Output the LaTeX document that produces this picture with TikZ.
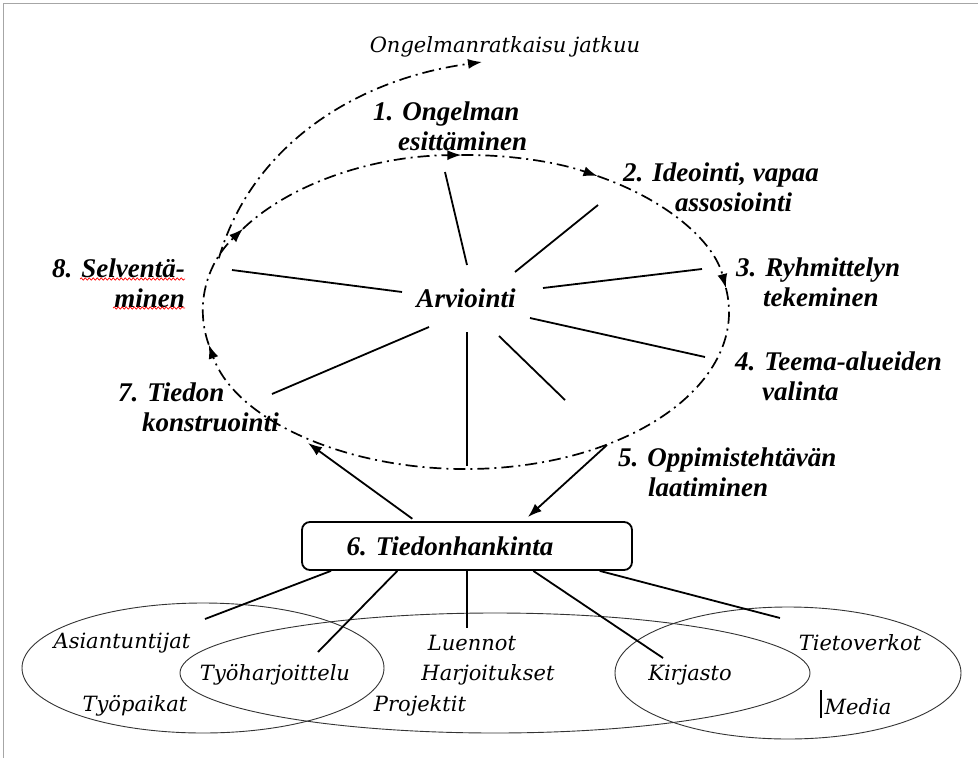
\documentclass[tikz,border=0pt]{standalone}
\usepackage{fontspec}
\setmainfont{Liberation Serif}
\newfontfamily\slabfont{DejaVu Serif}
\usetikzlibrary{arrows.meta, positioning, calc, decorations.pathmorphing}

\tikzset{
  stage/.style={font=\fontsize{27}{30}\selectfont\bfseries\itshape, inner sep=0pt, align=left},
  source/.style={font=\fontsize{21}{24}\selectfont\slabfont\itshape, inner sep=0pt},
  cycleline/.style={line width=1.7pt, dash pattern=on 12pt off 5pt on 2pt off 5pt},
  tip/.style={-{Latex[length=14pt,width=10pt]}},
  spoke/.style={line width=1.8pt},
  flow/.style={line width=1.8pt, -{Latex[length=14pt,width=10pt]}},
  link/.style={line width=1.8pt},
  area/.style={line width=0.9pt, black!80},
  squiggle/.style={red, line width=0.7pt, decorate, decoration={snake, amplitude=1.1pt, segment length=4pt}}
}

\begin{document}
\begin{tikzpicture}[x=1pt, y=-1pt]
    \useasboundingbox (0,0) rectangle (978,758);
    \draw[gray!70, line width=1pt] (3,758) -- (3,3) -- (978,3);

    % kehä ja nuolet
    \coordinate (c) at (466,312);
    \foreach \s/\e in {-8.8/168, 168/212, 212/269, 269/300, 300/351.2}
        \draw[cycleline, tip] (c) ++(\s:263 and 157) arc[start angle=\s, end angle=\e, x radius=263, y radius=157];

    \coordinate (cont) at (482,62);
    \draw[cycleline, tip] (c) ++(200:263 and 157) .. controls (250,150) and (350,80) .. (cont);
    \node[source] (jatkuu) at (505,47) {Ongelmanratkaisu jatkuu};

    % vaiheet
    \node[stage, anchor=west] (v1) at (373,126) {1. Ongelman\\\hspace*{25pt}esittäminen};
    \node[stage, anchor=west] (v2) at (623,187) {2. Ideointi, vapaa\\\hspace*{52pt}assosiointi};
    \node[stage, anchor=west] (v3) at (736,282) {3. Ryhmittelyn\\\hspace*{27pt}tekeminen};
    \node[stage, anchor=west] (v4) at (735,376) {4. Teema-alueiden\\\hspace*{27pt}valinta};
    \node[stage, anchor=west] (v5) at (618,472) {5. Oppimistehtävän\\\hspace*{30pt}laatiminen};
    \node[stage, anchor=west] (v7) at (118,407) {7. Tiedon\\\hspace*{24pt}konstruointi};
    \node[stage, anchor=east, align=right] (v8) at (185,283) {8. Selventä-\\minen};
    \draw[squiggle] (80,279) -- (185,279);
    \draw[squiggle] (113,308) -- (185,308);

    \node[stage] (arv) at (466,298) {Arviointi};

    % säteet
    \foreach \n/\p/\q in {1/{467,265}/{445,172}, 2/{515,272}/{598,205}, 3/{543,288}/{702,269},
                          4/{530,318}/{705,357}, 5/{499,336}/{565,400}, 6/{467,332}/{467,466},
                          7/{429,327}/{272,394}, 8/{402,292}/{232,270}} {
        \coordinate (in\n) at (\p);
        \coordinate (out\n) at (\q);
        \draw[spoke] (in\n) -- (out\n);
    }

    % tiedonhankinta
    \node[stage, draw, line width=1.8pt, rounded corners=8pt, minimum width=330pt, minimum height=48pt, align=center]
        (hank) at (467,546) {\hspace{-34pt}6. Tiedonhankinta};

    \coordinate (back) at (308,443);
    \coordinate (task) at (607,445);
    \draw[flow, shorten <=4pt] ($(hank.north west)!0.345!(hank.north east)$) -- (back);
    \draw[flow, shorten >=6pt] (task) -- ($(hank.north west)!0.67!(hank.north east)$);

    % lähteet
    \draw[area] (203,668) ellipse[x radius=181, y radius=65];
    \draw[area] (495,673) ellipse[x radius=315, y radius=60];
    \draw[area] (788,673) ellipse[x radius=173, y radius=66];

    \coordinate (asi) at (205,619);
    \coordinate (tyo) at (318,652);
    \coordinate (luen) at (467,628);
    \coordinate (kirj) at (663,658);
    \coordinate (tieto) at (780,618);
    \foreach \f/\t in {0.09/asi, 0.29/tyo, 0.5/luen, 0.7/kirj, 0.9/tieto}
        \draw[link] ($(hank.south west)!\f!(hank.south east)$) -- (\t);

    \node[source] (asiant) at (122,643) {Asiantuntijat};
    \node[source] (tyoharj) at (275,675) {Työharjoittelu};
    \node[source] (tyopaik) at (135,706) {Työpaikat};
    \node[source] (luennot) at (472,643) {Luennot};
    \node[source] (harj) at (488,675) {Harjoitukset};
    \node[source] (proj) at (420,706) {Projektit};
    \node[source] (kirjasto) at (690,675) {Kirjasto};
    \node[source] (verkot) at (860,643) {Tietoverkot};
    \node[source] (media) at (858,707) {Media};
    \draw[line width=1.5pt] (821,690) -- (821,718);
\end{tikzpicture}
\end{document}
